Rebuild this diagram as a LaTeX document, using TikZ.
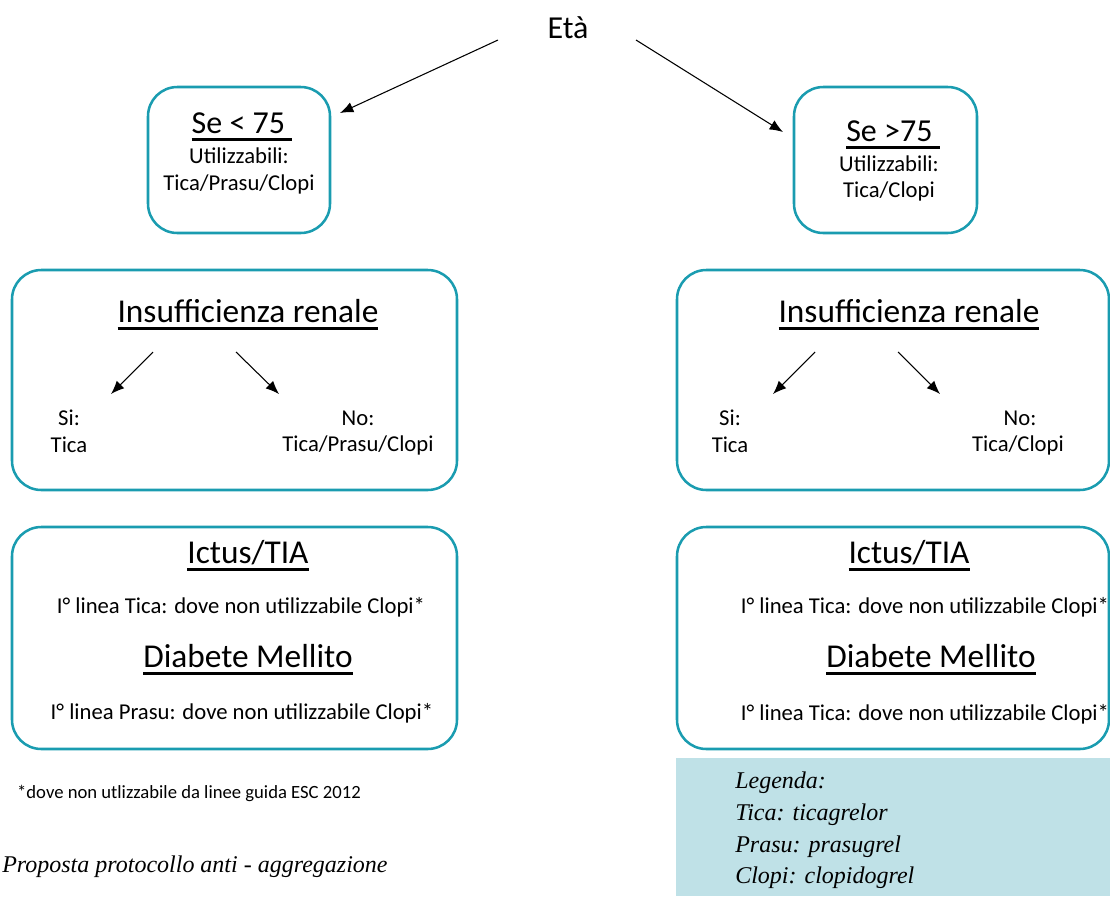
\documentclass[tikz,border=0pt]{standalone}
\usepackage{fontspec}
\setmainfont{Carlito}
\newfontfamily\legfont{Liberation Serif}
\usetikzlibrary{positioning,arrows.meta}

\definecolor{bordoteal}{RGB}{26,156,176}
\definecolor{fondolegenda}{RGB}{191,225,231}

\newcommand{\sottolinea}[1]{\setbox0=\hbox{#1}\leavevmode\rlap{\vrule height -0.13em depth 0.22em width \wd0}\box0}

\tikzset{
  riquadro/.style = {draw=bordoteal, line width=1.9pt, rounded corners=22pt},
  titolo/.style = {font=\fontsize{24}{28}\selectfont, inner sep=0pt},
  grande/.style = {font=\fontsize{25}{29}\selectfont, inner sep=0pt},
  testo/.style = {font=\fontsize{17}{20}\selectfont, inner sep=0pt},
  nota/.style = {font=\fontsize{14}{17}\selectfont, inner sep=0pt},
  corsivo/.style = {font=\legfont\itshape\fontsize{18}{21}\selectfont, inner sep=0pt},
  freccia/.style = {-{Latex[length=10pt,width=8pt]}, line width=0.8pt}
}

\begin{document}
\begin{tikzpicture}[x=0.75pt,y=-0.75pt]
      \useasboundingbox (0,0) rectangle (1110,896);
      \clip (0,0) rectangle (1110,896);

      % eta
      \node[titolo] (eta) at (568,28) {Età};

      % boxes
      \draw[riquadro] (148,87) rectangle (330,233);
      \draw[riquadro] (794,87) rectangle (977,233);
      \draw[riquadro] (12,270) rectangle (457,490);
      \draw[riquadro] (677,270) rectangle (1109,490);
      \draw[riquadro] (12,527) rectangle (457,749);
      \draw[riquadro] (677,527) rectangle (1109,749);
      \fill[fondolegenda] (676,758) rectangle (1110,896);

      % se < 75
      \node[titolo] (meno) at (242,127) {\sottolinea{Se < 75\ }};
      \node[testo] (meno1) at (239,156) {Utilizzabili:};
      \node[testo] (meno2) at (239,184) {Tica/Prasu/Clopi};

      % se > 75
      \node[titolo] (piu) at (893,135) {\sottolinea{Se >75\ }};
      \node[testo] (piu1) at (889,164) {Utilizzabili:};
      \node[testo] (piu2) at (889,191) {Tica/Clopi};

      % insufficienza renale
      \node[grande] (renL) at (248,315) {\sottolinea{Insufficienza renale}};
      \node[testo] (siL) at (69,418) {Si:};
      \node[testo] (siL1) at (69,445) {Tica};
      \node[testo] (noL) at (358,418) {No:};
      \node[testo] (noL1) at (358,445) {Tica/Prasu/Clopi};

      \node[grande] (renR) at (909,315) {\sottolinea{Insufficienza renale}};
      \node[testo] (siR) at (730,418) {Si:};
      \node[testo] (siR1) at (730,445) {Tica};
      \node[testo] (noR) at (1020,418) {No:};
      \node[testo] (noR1) at (1018,445) {Tica/Clopi};

      % ictus e diabete
      \node[grande] (ictL) at (248,556) {\sottolinea{Ictus/TIA}};
      \node[testo] (ictL1) at (241,607) {I° linea Tica: dove non utilizzabile Clopi*};
      \node[grande] (diaL) at (248,660) {\sottolinea{Diabete Mellito}};
      \node[testo] (diaL1) at (242,713) {I° linea Prasu: dove non utilizzabile Clopi*};

      \node[grande] (ictR) at (909,556) {\sottolinea{Ictus/TIA}};
      \node[testo] (ictR1) at (925,607) {I° linea Tica: dove non utilizzabile Clopi*};
      \node[grande] (diaR) at (931,660) {\sottolinea{Diabete Mellito}};
      \node[testo] (diaR1) at (925,714) {I° linea Tica: dove non utilizzabile Clopi*};

      \node[nota] (nota) at (189,793) {*dove non utlizzabile da linee guida ESC 2012};
      \node[corsivo, anchor=base west] (proposta) at (2,872) {Proposta protocollo anti - aggregazione};

      % legenda
      \node[corsivo, anchor=base west] (leg0) at (735,788) {Legenda:};
      \node[corsivo, anchor=base west] (leg1) at (735,820) {Tica: ticagrelor};
      \node[corsivo, anchor=base west] (leg2) at (735,852) {Prasu: prasugrel};
      \node[corsivo, anchor=base west] (leg3) at (735,883) {Clopi: clopidogrel};

      % arrow ends
      \coordinate (e1) at (498,40);
      \coordinate (e2) at (340,113);
      \coordinate (e3) at (636,40);
      \coordinate (e4) at (783,132);
      \coordinate (l1) at (153,352);
      \coordinate (l2) at (111,394);
      \coordinate (l3) at (236,352);
      \coordinate (l4) at (279,394);
      \coordinate (r1) at (815,352);
      \coordinate (r2) at (773,394);
      \coordinate (r3) at (898,352);
      \coordinate (r4) at (940,394);

      \draw[freccia] (e1) to (e2);
      \draw[freccia] (e3) to (e4);
      \draw[freccia] (l1) to (l2);
      \draw[freccia] (l3) to (l4);
      \draw[freccia] (r1) to (r2);
      \draw[freccia] (r3) to (r4);
\end{tikzpicture}
\end{document}
